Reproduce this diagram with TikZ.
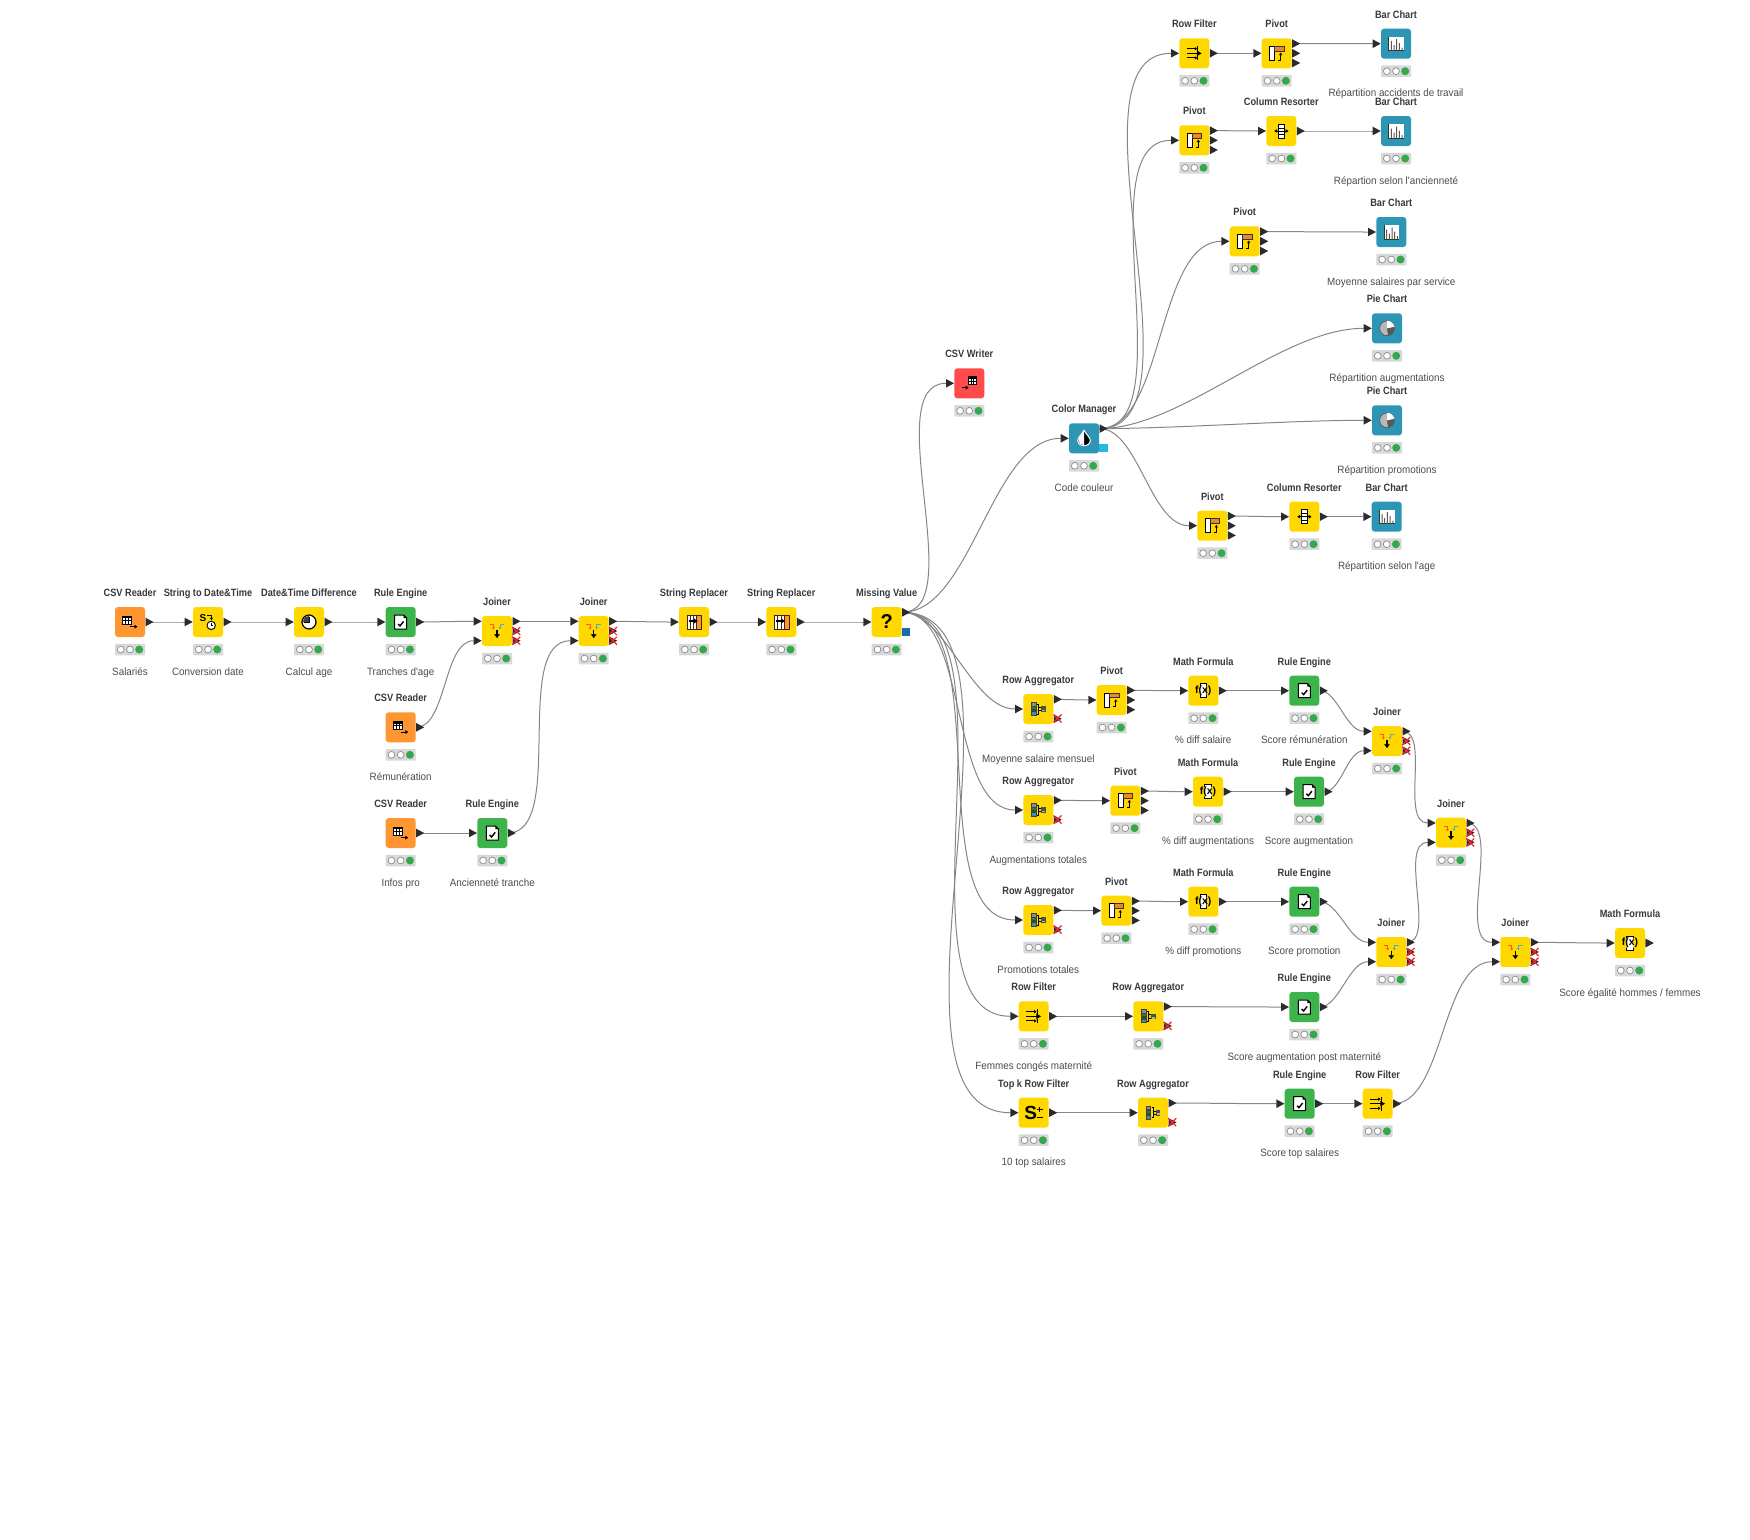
\documentclass[tikz,border=0pt]{standalone}
\usepackage{fontspec}
\usetikzlibrary{arrows.meta}
\newfontfamily\kfont[FakeStretch=0.87]{Liberation Sans}
\newfontfamily\klfont[FakeStretch=0.93]{Liberation Sans}
\newfontfamily\kqfont{Liberation Sans}
\definecolor{kyellow}{HTML}{FFD800}
\definecolor{korange}{HTML}{FF9632}
\definecolor{kpiv}{HTML}{F0862C}
\definecolor{kgreen}{HTML}{3CB44B}
\definecolor{kred}{HTML}{FF4B4B}
\definecolor{kteal}{HTML}{2C96B4}
\definecolor{kdot}{HTML}{34A84A}
\definecolor{kstatbg}{HTML}{D8D8D8}
\definecolor{kdark}{HTML}{2B2B2B}
\definecolor{kwirec}{HTML}{858585}
\definecolor{ktext}{HTML}{4A4A55}
\definecolor{kcyan}{HTML}{25B9E1}
\definecolor{kblue}{HTML}{1A6AB0}
\definecolor{kxred}{HTML}{F5252B}
\pgfdeclarelayer{ports}
\pgfsetlayers{main,ports}
\tikzset{
 kbox/.style={minimum width=30pt,minimum height=30pt,inner sep=0pt,rounded corners=3pt,draw=none},
 ktitle/.style={anchor=base,inner sep=0pt,font=\kfont\bfseries\fontsize{10.6}{12}\selectfont,text=ktext!75!black},
 klabel/.style={anchor=base,inner sep=0pt,font=\klfont\fontsize{10.6}{12}\selectfont,text=ktext},
 kstat/.style={minimum width=30pt,minimum height=11.5pt,inner sep=0pt,fill=kstatbg,rounded corners=.8pt},
 kwire/.style={draw=kwirec,line width=1pt},
 kport/.style={fill=kdark},
 kx/.style={draw=kxred,line width=1.2pt},
 kdoc/.style={draw=black,line width=1pt,fill=white},
}
\newcommand{\knode}[7]{%
 \def\kcur{#1}%
 \node[kbox,fill=#4] (#1) at (#2,#3) {};
 \node[ktitle] (#1-t) at (#2,#3-25.5) {#5};
 \node[kstat] (#1-s) at (#2,#3+27.5) {};
 \begin{scope}[shift={(#2,#3+27.5)}]
  \filldraw[fill=white,draw=black!45,line width=.7pt] (-9.2,0) circle (3.4pt) (0,0) circle (3.4pt);
  \fill[kdot] (9.2,0) circle (4pt);
 \end{scope}
 \if\relax\detokenize{#6}\relax\else\node[klabel] (#1-l) at (#2,#3+53) {#6};\fi
 \coordinate (#1-i) at (#2-23.3,#3);
 \coordinate (#1-i1) at (#2-23.3,#3-9.7);
 \coordinate (#1-i2) at (#2-23.3,#3+9.7);
 \coordinate (#1-o) at (#2+15.5,#3);
 \coordinate (#1-o1) at (#2+15.5,#3-9.7);
 \coordinate (#1-o2) at (#2+15.5,#3+9.7);
 \begin{scope}[shift={(#2,#3)}]#7\end{scope}
}
\newcommand{\tri}[1]{\begin{pgfonlayer}{ports}\fill[kport] (#1) ++(0,-4.3) -- ++(8,4.3) -- ++(-8,4.3) -- cycle;\end{pgfonlayer}}
\newcommand{\kcross}[2]{\begin{pgfonlayer}{ports}\draw[kx] (#1+15.2,#2-4) -- (#1+23.2,#2+4) (#1+15.2,#2+4) -- (#1+23.2,#2-4);\end{pgfonlayer}}
\newcommand{\wire}[2]{\draw[kwire] (#1) to[out=0,in=180,looseness=.75] (#2);}
% icons
\newcommand{\tblic}[2]{\fill[white] (#1,#2) rectangle +(8.6,8);\fill[black] (#1,#2) rectangle +(8.6,2.3);\draw[black,line width=.5pt] (#1,#2) rectangle +(8.6,8) (#1,#2+4.4) -- +(8.6,0) (#1+2.9,#2) -- +(0,8) (#1+5.7,#2) -- +(0,8);}
\newcommand{\icRead}{\tblic{-7.3}{-6}\draw[line width=1pt,-{Latex[length=3pt,width=4.5pt]}] (0,4.7) -- (7.6,4.7);}
\newcommand{\icWrite}{\tblic{-1.3}{-6.7}\draw[line width=1pt,-{Latex[length=3pt,width=4.5pt]}] (-7.4,4.3) -- (-.6,4.3);}
\newcommand{\icRule}{\draw[kdoc] (-6,-7) -- (3,-7) -- (6,-4) -- (6,7) -- (-6,7) -- cycle;\fill[black] (3,-7) -- (6,-4) -- (3,-4) -- cycle;\draw[line width=1.4pt] (-2.6,2) -- (-.7,3.9) -- (2.9,-.6);}
\newcommand{\icJoin}{\draw[korange!60!red,line width=.9pt,-{Latex[length=2.2pt,width=3.2pt]}] (-7.3,-6.5) -- (-3.6,-6.5) -- (-3.6,-1.5);
 \draw[kteal!80!white,line width=.9pt,-{Latex[length=2.2pt,width=3.2pt]}] (7.3,-6.5) -- (3,-6.5) -- (3,-1.7);
 \draw[black,line width=1.3pt,-{Latex[length=4pt,width=6.5pt]}] (0,-1.3) -- (0,7.3);}
\newcommand{\icPivot}{\draw[draw=black,fill=white,line width=.9pt] (-7.2,-7) rectangle (-2,7);
 \filldraw[fill=kpiv,draw=black!80,line width=.7pt] (-2,-7) rectangle (7.3,-2.3);
 \draw[line width=.9pt,-{Latex[length=2.5pt,width=3.5pt]}] (1.2,6.7) -- (4,6.7) -- (4,-.8);}
\newcommand{\icFilter}{\begin{scope}[line width=.9pt]
 \draw[-{Latex[length=2.5pt,width=3.5pt]}] (-7.4,-4.6) -- (3,-4.6);\draw (3.6,-7) -- (3.6,-2.2);
 \draw[-{Latex[length=2.5pt,width=3.5pt]}] (-7.4,4.6) -- (3,4.6);\draw (3.6,2.2) -- (3.6,7);
 \draw[line width=1.2pt,-{Latex[length=5pt,width=6.5pt]}] (-7.4,0) -- (7.6,0);\end{scope}}
\newcommand{\icAgg}{\fill[black!75] (-7.3,-7) rectangle (-1.7,7);
 \fill[kgreen!70!black] (-6.4,-2.2) rectangle (-2.6,-.2);\fill[kteal] (-6.4,3.2) rectangle (-2.6,6);\fill[black!45] (-6.4,-6) rectangle (-2.6,-3.5);
 \draw[black,line width=.7pt] (-1.5,-5) -- (0,-5) -- (0,5) -- (-1.5,5) (0,-1.8) -- (3,-1.8) (0,1.6) -- (3,1.6);
 \fill[black!70] (3,-2.8) rectangle (7.3,3);\fill[kgreen!60!black] (3.8,-2) rectangle (6.5,-.5);\fill[black!30] (3.8,.5) rectangle (6.5,2.2);}
\newcommand{\icMath}{\draw[draw=black,fill=white,line width=.8pt] (-3.2,-7) rectangle (3.2,7);
 \fill[white] (-3,-4.5) rectangle (3,4.5);\fill[kyellow] (-6.5,-4.6) rectangle (-3.2,4.6) (3.2,-4.6) rectangle (6.5,4.6);
 \node[inner sep=0pt,font=\kqfont\bfseries\fontsize{10.5}{10.5}\selectfont] (\kcur-ic) at (0,0) {f(x)};}
\newcommand{\icResort}{\draw[draw=black,fill=white,line width=.8pt] (-2.6,-7) rectangle (2.6,7);\draw[line width=.6pt] (-2.6,-3.2) -- (2.6,-3.2) (-2.6,3.2) -- (2.6,3.2);
 \draw[line width=.9pt,{Latex[length=3pt,width=4pt]}-{Latex[length=3pt,width=4pt]}] (-7.2,0) -- (7.4,0);}
\newcommand{\icBar}{\fill[white] (-7.2,-7) rectangle (7.8,7);\draw[black!80,line width=.9pt] (-7.2,-7) -- (-7.2,7) -- (7.8,7);
 \fill[black!65] (-5.2,-2.5) rectangle (-4.2,7) (-2.5,1.5) rectangle (-1.5,7) (.2,-4.5) rectangle (1.2,7) (2.9,-.5) rectangle (3.9,7) (5.6,4) rectangle (6.6,7);}
\newcommand{\icPie}{\filldraw[fill=black!28,draw=black!65,line width=.7pt] (0,0) circle (7.4pt);
 \fill[black!65] (0,0) -- (7,-1.5) -- (7.4,1.5) -- (6,4.3) -- (3,6.8) -- (1,7.3) -- cycle;
 \fill[white] (0,0) -- (0,-7.6) -- (3.5,-6.8) -- (6.2,-4.4) -- (7.4,-1.6) -- cycle;}
\newcommand{\icDrop}{\filldraw[draw=white,line width=1pt,fill=black] (0,-8) .. controls (3,-3) and (6.3,-.5) .. (6.3,2) .. controls (6.3,5.4) and (3.3,7.4) .. (0,7.4) .. controls (-3.3,7.4) and (-6.3,5.4) .. (-6.3,2) .. controls (-6.3,-.5) and (-3,-3) .. (0,-8) -- cycle;
 \fill[white] (0,-7.5) .. controls (-3,-3) and (-5.6,-.5) .. (-5.6,2) .. controls (-5.6,5) and (-3,6.8) .. (0,6.8) -- cycle;}
\newcommand{\icSRep}{\fill[white] (-6.7,-7) rectangle (2.7,7);\fill[korange] (2.7,-7) rectangle (7.7,7);
 \draw[black!70!brown,line width=.9pt] (-6.7,-7) rectangle (7.7,7) (2.7,-7) -- (2.7,7) (-3.4,-7) -- (-3.4,7) (-.3,-7) -- (-.3,7);
 \draw[black,line width=1.3pt,-{Latex[length=4pt,width=5.5pt]}] (-5,-1) -- (4,-1);}
\newcommand{\icMiss}{\node[inner sep=0pt,font=\kqfont\bfseries\fontsize{20}{20}\selectfont] (\kcur-ic) at (0,0) {?};}
\newcommand{\icTop}{\node[inner sep=0pt,font=\kqfont\bfseries\fontsize{19}{19}\selectfont] (\kcur-ic) at (-3,0) {S};
 \draw[line width=1pt] (3.5,-3.5) -- (9,-3.5) (6.2,-6.2) -- (6.2,-.8) (3.5,5.2) -- (9,5.2);}
\newcommand{\icSD}{\node[inner sep=0pt,font=\kqfont\bfseries\fontsize{10}{10}\selectfont] (\kcur-ic) at (-5,-4.3) {S};
 \draw[line width=.9pt,-{Latex[length=2.3pt,width=3.2pt]}] (-1,-6.7) -- (3.5,-6.7) -- (3.5,-1.8);
 \begin{scope}[shift={(3.2,3.4)}]\draw[draw=black,fill=white,line width=.9pt] (0,0) circle (4.2pt);\draw[line width=.8pt] (0,-2.6) -- (0,0) -- (2,0);\end{scope}}
\newcommand{\icDT}{\draw[draw=black,fill=white,line width=1.2pt] (0,0) circle (7pt);\fill[black!75] (0,0) -- (0,-6) -- (-3.2,-5.2) -- (-5.2,-3.2) -- (-6,0) -- cycle;\draw[line width=1pt] (0,-5) -- (0,0) -- (-5,0);}
% node kinds
\newcommand{\CSVR}[4]{\knode{#1}{#2}{#3}{korange}{CSV Reader}{#4}{\icRead}\tri{#1-o}}
\newcommand{\CSVW}[4]{\knode{#1}{#2}{#3}{kred}{CSV Writer}{#4}{\icWrite}\tri{#1-i}}
\newcommand{\RuleE}[4]{\knode{#1}{#2}{#3}{kgreen}{Rule Engine}{#4}{\icRule}\tri{#1-i}\tri{#1-o}}
\newcommand{\Joiner}[3]{\knode{#1}{#2}{#3}{kyellow}{Joiner}{}{\icJoin}\tri{#1-i1}\tri{#1-i2}\tri{#1-o1}\tri{#1-o}\tri{#1-o2}\kcross{#2}{#3}\kcross{#2}{#3+9.7}}
\newcommand{\SRepl}[3]{\knode{#1}{#2}{#3}{kyellow}{String Replacer}{}{\icSRep}\tri{#1-i}\tri{#1-o}}
\newcommand{\RowF}[4]{\knode{#1}{#2}{#3}{kyellow}{Row Filter}{#4}{\icFilter}\tri{#1-i}\tri{#1-o}}
\newcommand{\PivotN}[3]{\knode{#1}{#2}{#3}{kyellow}{Pivot}{}{\icPivot}\tri{#1-i}\tri{#1-o1}\tri{#1-o}\tri{#1-o2}}
\newcommand{\BarC}[4]{\knode{#1}{#2}{#3}{kteal}{Bar Chart}{#4}{\icBar}\tri{#1-i}}
\newcommand{\PieC}[4]{\knode{#1}{#2}{#3}{kteal}{Pie Chart}{#4}{\icPie}\tri{#1-i}}
\newcommand{\ColR}[3]{\knode{#1}{#2}{#3}{kyellow}{Column Resorter}{}{\icResort}\tri{#1-i}\tri{#1-o}}
\newcommand{\RowA}[4]{\knode{#1}{#2}{#3}{kyellow}{Row Aggregator}{#4}{\icAgg}\tri{#1-i}\tri{#1-o1}\tri{#1-o2}\kcross{#2}{#3+9.5}}
\newcommand{\MathF}[4]{\knode{#1}{#2}{#3}{kyellow}{Math Formula}{#4}{\icMath}\tri{#1-i}\tri{#1-o}}
\begin{document}
\begin{tikzpicture}[x=1pt,y=-1pt]
\useasboundingbox (0,0) rectangle (1750,1539);
% left
\CSVR{csva}{130}{622}{Salariés}
\knode{sd}{208}{622}{kyellow}{String to Date\&Time}{Conversion date}{\icSD}\tri{sd-i}\tri{sd-o}
\knode{dt}{309}{622}{kyellow}{Date\&Time Difference}{Calcul age}{\icDT}\tri{dt-i}\tri{dt-o}
\RuleE{rea}{400.7}{622}{Tranches d'age}
\Joiner{ja}{497}{631}
\Joiner{jb}{593.7}{631}
\CSVR{csvb}{400.7}{727.3}{Rémunération}
\CSVR{csvc}{400.7}{833}{Infos pro}
\RuleE{reb}{492.3}{833}{Ancienneté tranche}
\SRepl{sra}{694}{622}
\SRepl{srb}{781.3}{622}
\knode{mv}{886.7}{622}{kyellow}{Missing Value}{}{\icMiss}\tri{mv-i}\tri{mv-o1}
\begin{pgfonlayer}{ports}\fill[kblue] (902,627.7) rectangle (910.3,635.7);\end{pgfonlayer}
\CSVW{csvw}{969.3}{383.3}{}
\knode{cm}{1084}{438.3}{kteal}{Color Manager}{Code couleur}{\icDrop}\tri{cm-i}\tri{cm-o1}
\begin{pgfonlayer}{ports}\fill[kcyan] (1099,444) rectangle (1107.5,452);\end{pgfonlayer}
% top branch
\RowF{rfa}{1194.3}{53.3}{}
\PivotN{pa}{1276.7}{53.3}
\BarC{bara}{1396}{43.7}{Répartition accidents de travail}
\PivotN{pb}{1194.3}{140.3}
\ColR{cra}{1281.3}{131}
\BarC{barb}{1396}{131}{Répartion selon l'ancienneté}
\PivotN{pc}{1244.7}{241.3}
\BarC{barc}{1391.3}{232}{Moyenne salaires par service}
\PieC{piea}{1387}{328.3}{Répartition augmentations}
\PieC{pieb}{1387}{420.3}{Répartition promotions}
\PivotN{pd}{1212.3}{525.7}
\ColR{crb}{1304.3}{516.7}
\BarC{bard}{1386.7}{516.7}{Répartition selon l'age}
% bottom branch
\RowA{raa}{1038.3}{709}{Moyenne salaire mensuel}
\PivotN{pe}{1111.7}{700}
\MathF{ma}{1203.3}{690.7}{\% diff salaire}
\RuleE{rec}{1304.3}{690.7}{Score rémunération}
\RowA{rab}{1038.3}{810}{Augmentations totales}
\PivotN{pf}{1125.3}{800.7}
\MathF{mb}{1208}{791.7}{\% diff augmentations}
\RuleE{red}{1309}{791.7}{Score augmentation}
\RowA{rac}{1038.3}{920}{Promotions totales}
\PivotN{pg}{1116.3}{910.7}
\MathF{mc}{1203.3}{901.7}{\% diff promotions}
\RuleE{ree}{1304.3}{901.7}{Score promotion}
\RowF{rfb}{1033.7}{1016.3}{Femmes congés maternité}
\RowA{rad}{1148.3}{1016.3}{}
\RuleE{ref}{1304.3}{1007}{Score augmentation post maternité}
\knode{tk}{1033.7}{1112.7}{kyellow}{Top k Row Filter}{10 top salaires}{\icTop}\tri{tk-i}\tri{tk-o}
\RowA{rae}{1153}{1112.7}{}
\RuleE{reg}{1299.7}{1103.7}{Score top salaires}
\RowF{rfc}{1377.7}{1103.7}{}
\Joiner{jc}{1387}{741}
\Joiner{jd}{1451}{832.7}
\Joiner{je}{1391.3}{952}
\Joiner{jf}{1515.3}{952}
\MathF{md}{1630}{943}{Score égalité hommes / femmes}
% wires
\wire{csva-o}{sd-i}\wire{sd-o}{dt-i}\wire{dt-o}{rea-i}\wire{rea-o}{ja-i1}\wire{csvb-o}{ja-i2}
\wire{ja-o1}{jb-i1}\wire{csvc-o}{reb-i}\wire{reb-o}{jb-i2}\wire{jb-o1}{sra-i}\wire{sra-o}{srb-i}\wire{srb-o}{mv-i}
\wire{mv-o1}{csvw-i}\wire{mv-o1}{cm-i}\wire{mv-o1}{raa-i}\wire{mv-o1}{rab-i}\wire{mv-o1}{rac-i}\wire{mv-o1}{rfb-i}\wire{mv-o1}{tk-i}
\wire{cm-o1}{rfa-i}\wire{cm-o1}{pb-i}\wire{cm-o1}{pc-i}\wire{cm-o1}{piea-i}\wire{cm-o1}{pieb-i}\wire{cm-o1}{pd-i}
\wire{rfa-o}{pa-i}\wire{pa-o1}{bara-i}\wire{pb-o1}{cra-i}\wire{cra-o}{barb-i}\wire{pc-o1}{barc-i}\wire{pd-o1}{crb-i}\wire{crb-o}{bard-i}
\wire{raa-o1}{pe-i}\wire{pe-o1}{ma-i}\wire{ma-o}{rec-i}\wire{rec-o}{jc-i1}
\wire{rab-o1}{pf-i}\wire{pf-o1}{mb-i}\wire{mb-o}{red-i}\wire{red-o}{jc-i2}
\wire{rac-o1}{pg-i}\wire{pg-o1}{mc-i}\wire{mc-o}{ree-i}\wire{ree-o}{je-i1}
\wire{rfb-o}{rad-i}\wire{rad-o1}{ref-i}\wire{ref-o}{je-i2}
\wire{tk-o}{rae-i}\wire{rae-o1}{reg-i}\wire{reg-o}{rfc-i}\wire{rfc-o}{jf-i2}
\wire{jc-o1}{jd-i1}\wire{je-o1}{jd-i2}\wire{jd-o1}{jf-i1}\wire{jf-o1}{md-i}
\tri{md-o}
\end{tikzpicture}
\end{document}
